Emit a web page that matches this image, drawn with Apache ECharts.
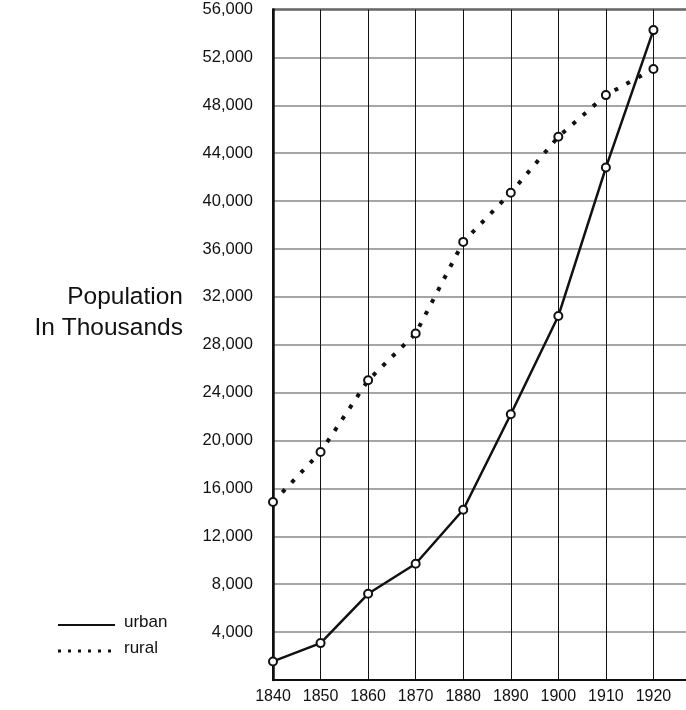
<!DOCTYPE html>
<html>
<head>
<meta charset="utf-8">
<script src="https://cdn.jsdelivr.net/npm/echarts@6/dist/echarts.min.js"></script>
<style>
html,body{margin:0;padding:0;background:#fff;}
#chart{width:686px;height:710px;}
</style>
</head>
<body>
<div id="chart"></div>
<script>
var years = [1840, 1850, 1860, 1870, 1880, 1890, 1900, 1910, 1920];
var urban = [1550, 3080, 7200, 9710, 14220, 22200, 30400, 42800, 54280];
var rural = [14860, 19040, 25030, 28940, 36590, 40690, 45370, 48850, 51030];
var yTicks = [0, 4000, 8000, 12000, 16000, 20000, 24000, 28000, 32000, 36000, 40000, 44000, 48000, 52000, 56000];

function pairs(xs, ys) { return xs.map(function (x, i) { return [x, ys[i]]; }); }

var chart = echarts.init(document.getElementById('chart'));
var font = 'Liberation Sans, Arial, sans-serif';
chart.setOption({
  backgroundColor: '#fff',
  animation: false,
  grid: { left: 273, width: 428, top: 9.5, bottom: 30, outerBoundsMode: 'none', containLabel: false, show: true, borderColor: '#111', borderWidth: 2, backgroundColor: 'transparent' },
  xAxis: {
    type: 'value', min: 1840, max: 1930, interval: 10,
    axisLine: { show: true, lineStyle: { color: '#111', width: 2 } },
    axisTick: { show: false },
    splitLine: { show: true, lineStyle: { color: '#111', width: 1 } },
    axisLabel: {
      color: '#111', fontFamily: font, fontSize: 16, margin: 9,
      formatter: function (v) { return v <= 1920 ? String(v) : ''; }
    }
  },
  yAxis: {
    type: 'value', min: yTicks[0], max: yTicks[yTicks.length - 1], interval: 4000,
    axisLine: { show: true, lineStyle: { color: '#111', width: 2.5 } },
    axisTick: { show: false },
    splitLine: { show: true, lineStyle: { color: '#888', width: 1.5 } },
    axisLabel: {
      color: '#111', fontFamily: font, fontSize: 16.5, margin: 20,
      formatter: function (v) { return v === 0 ? '' : v.toLocaleString('en-US'); }
    }
  },
  series: [
    {
      name: 'urban', type: 'line', data: pairs(years, urban),
      symbol: 'emptyCircle', symbolSize: 8,
      lineStyle: { color: '#111', width: 2.5 },
      itemStyle: { color: '#111', borderColor: '#111', borderWidth: 3 },
      z: 3
    },
    {
      name: 'rural', type: 'line', data: pairs(years, rural),
      symbol: 'emptyCircle', symbolSize: 8,
      lineStyle: { color: '#111', width: 4, type: [4, 9.5], cap: 'butt' },
      itemStyle: { color: '#111', borderColor: '#111', borderWidth: 3 },
      z: 3
    }
  ],
  graphic: [
    { type: 'text', right: 503, top: 285, style: { text: 'Population', fontFamily: font, fontSize: 24.5, fill: '#111', textAlign: 'right' } },
    { type: 'text', right: 503, top: 316, style: { text: 'In Thousands', fontFamily: font, fontSize: 24.5, fill: '#111', textAlign: 'right' } },
    { type: 'line', shape: { x1: 58, y1: 625, x2: 115, y2: 625 }, style: { stroke: '#111', lineWidth: 2.2 } },
    { type: 'line', shape: { x1: 58, y1: 651, x2: 116, y2: 651 }, style: { stroke: '#111', lineWidth: 3, lineDash: [3, 7] } },
    { type: 'text', left: 124, top: 614, style: { text: 'urban', fontFamily: font, fontSize: 17, fill: '#111' } },
    { type: 'text', left: 124, top: 640, style: { text: 'rural', fontFamily: font, fontSize: 17, fill: '#111' } }
  ]
});
</script>
</body>
</html>
